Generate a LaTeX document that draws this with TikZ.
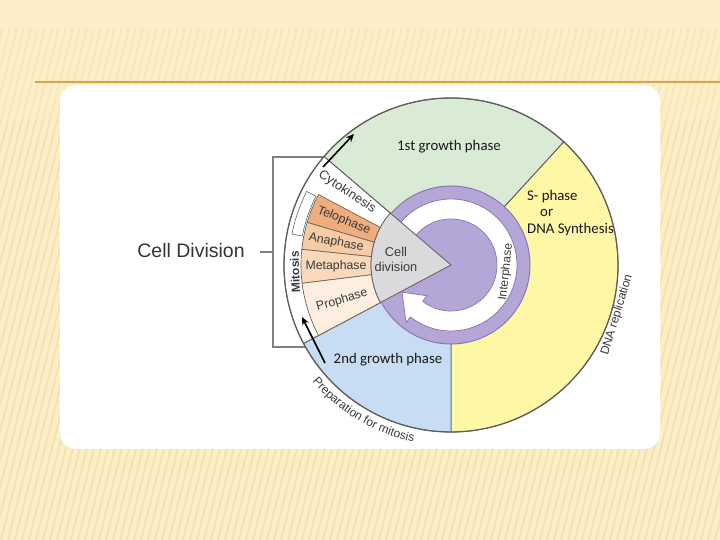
\documentclass[tikz,border=0pt]{standalone}
\usepackage{fontspec}
\setmainfont{Liberation Sans}
\newfontfamily\calib{Carlito}
\usetikzlibrary{decorations.text,arrows.meta}

\definecolor{bgcream}{HTML}{FCEFC8}
\definecolor{stripe}{HTML}{E4CA88}
\definecolor{orline}{HTML}{E0A04A}
\definecolor{gphase}{HTML}{D9EAD5}
\definecolor{sphase}{HTML}{FDF7A6}
\definecolor{bphase}{HTML}{C8DCF3}
\definecolor{wedgec}{HTML}{DADADC}
\definecolor{purp}{HTML}{B5A6D8}
\definecolor{purpd}{HTML}{8A78B4}
\definecolor{telo}{HTML}{EFAC7E}
\definecolor{ana}{HTML}{F7CBA6}
\definecolor{meta}{HTML}{F9D8BC}
\definecolor{pro}{HTML}{FDEEDF}
\definecolor{edgec}{HTML}{5E5E5E}
\definecolor{labgray}{HTML}{3A3A3A}

\begin{document}
\begin{tikzpicture}[x=1pt,y=1pt,
  sector/.style={draw=edgec, line width=0.9pt},
  phasebox/.style={draw=edgec!80!brown, line width=0.7pt},
  phaselab/.style={font=\fontsize{12.3}{12.3}\selectfont, text=labgray, inner sep=0pt},
  bigphase/.style={font=\calib\fontsize{14.8}{17}\selectfont, text=black!90, inner sep=0pt},
  cyclearrow/.style={-{Stealth[length=8pt,width=7pt]}, line width=1.6pt, black},
  bracketline/.style={draw=black!50, line width=1.4pt}
]
\useasboundingbox (0,0) rectangle (720,540);
\fill[bgcream] (0,0) rectangle (720,540);
\begin{scope}
  \clip (0,0) rectangle (720,510);
  \foreach \i in {-300,-293,...,720}
    \draw[stripe, opacity=0.35, line width=2pt] (\i,0) -- ++(135,540);
  \fill[bgcream, opacity=0.5] (0,420) rectangle (720,510);
\end{scope}
\draw[orline, line width=2pt] (35,458) -- (720,458);
\fill[white, rounded corners=16pt] (60,91) rectangle (660,455);

% Cell Division label and bracket
\node[font=\fontsize{19.5}{20}\selectfont, text=black!80, inner sep=0pt] (cd) at (191,289) {Cell Division};
\coordinate (bt) at (334,383);
\coordinate (bb) at (314,193);
\coordinate (btl) at (273,383);
\coordinate (bbl) at (273,193);
\coordinate (tickl) at (260,288);
\coordinate (tickr) at (273,288);
\draw[bracketline] (bt) -- (btl) -- (bbl) -- (bb);
\draw[bracketline] (tickl) -- (tickr);

\begin{scope}[shift={(451,275)}]
  % main sectors
  \filldraw[sector, fill=gphase] (0,0) -- (139.5:167) arc[start angle=139.5, end angle=47.5, radius=167] -- cycle;
  \filldraw[sector, fill=sphase] (0,0) -- (47.5:167) arc[start angle=47.5, end angle=-90, radius=167] -- cycle;
  \filldraw[sector, fill=bphase] (0,0) -- (-90:167) arc[start angle=270, end angle=208, radius=167] -- cycle;
  \filldraw[sector, fill=white] (0,0) -- (208:167) arc[start angle=208, end angle=139.5, radius=167] -- cycle;

  % mitosis phases
  \filldraw[phasebox, fill=telo] (152:80) arc[start angle=152, end angle=163.5, radius=80] -- (163.5:150) arc[start angle=163.5, end angle=152, radius=150] -- cycle;
  \filldraw[phasebox, fill=ana] (163.5:80) arc[start angle=163.5, end angle=174, radius=80] -- (174:150) arc[start angle=174, end angle=163.5, radius=150] -- cycle;
  \filldraw[phasebox, fill=meta] (174:80) arc[start angle=174, end angle=187, radius=80] -- (187:150) arc[start angle=187, end angle=174, radius=150] -- cycle;
  \filldraw[phasebox, fill=pro] (187:80) arc[start angle=187, end angle=208, radius=80] -- (208:150) arc[start angle=208, end angle=187, radius=150] -- cycle;

  % mitosis bracket box
  \draw[draw=black!60, line width=0.6pt] (153:151.5) arc[start angle=153, end angle=169, radius=151.5] -- (169:162) arc[start angle=169, end angle=153, radius=162] -- cycle;

  % purple interphase disc and white arrow
  \filldraw[fill=purp, draw=purpd, line width=1pt] (0,0) circle[radius=79];
  \filldraw[fill=white, draw=purpd, line width=0.8pt]
    (140:46) arc[start angle=140, end angle=-128, radius=46]
    -- (-128:39) -- (-151:56) -- (-128:73) -- (-128:66)
    arc[start angle=-128, end angle=140, radius=66] -- cycle;

  % cell division wedge
  \filldraw[fill=wedgec, draw=edgec, line width=0.8pt] (0,0) -- (208:80) arc[start angle=208, end angle=139.5, radius=80] -- cycle;

  % outer circle
  \draw[edgec, line width=1.2pt] (0,0) circle[radius=167];

  % cycle arrows
  \coordinate (a1s) at (-128,98);
  \coordinate (a1e) at (-97,131);
  \coordinate (a2s) at (-126,-98);
  \coordinate (a2e) at (-149,-52);
  \draw[cyclearrow] (a1s) -- (a1e);
  \draw[cyclearrow] (a2s) -- (a2e);

  % phase labels
  \node[phaselab, font=\fontsize{12.8}{12.8}\selectfont, rotate=-33] (cyto) at (-104,73) {Cytokinesis};
  \node[phaselab, rotate=-22] (telol) at (157.5:116) {Telophase};
  \node[phaselab, rotate=-11] (anal) at (169:117) {Anaphase};
  \node[phaselab, rotate=0] (metal) at (180.5:115) {Metaphase};
  \node[phaselab, rotate=17] (prol) at (197.8:114.5) {Prophase};
  \node[phaselab, font=\bfseries\fontsize{12}{12}\selectfont, rotate=92] (mit) at (-156,-7) {Mitosis};
  \node[phaselab, font=\fontsize{12.8}{15}\selectfont, align=center] (celldiv) at (-55,5.5) {Cell\\division};
  \node[phaselab, font=\fontsize{12}{12}\selectfont, rotate=84] (inter) at (55,-7) {Interphase};
  \node[phaselab, font=\fontsize{12}{12}\selectfont, rotate=73] (dnarep) at (166,-50) {DNA replication};

  % growth phase labels
  \node[bigphase] (g1) at (-2,118) {1st growth phase};
  \node[bigphase] (g2) at (-63,-95) {2nd growth phase};
  \node[bigphase, anchor=west] (sp1) at (76,68) {S- phase};
  \node[bigphase, anchor=west] (sp2) at (89,52) {or};
  \node[bigphase, anchor=west] (sp3) at (76,35) {DNA Synthesis};

  % curved label
  \path[decorate, decoration={text along path, text color=labgray,
      text={|\fontsize{12}{12}\selectfont|Preparation for mitosis}, text align=center}]
    (216:181) arc[start angle=216, end angle=262, radius=181];
\end{scope}
\end{tikzpicture}
\end{document}
